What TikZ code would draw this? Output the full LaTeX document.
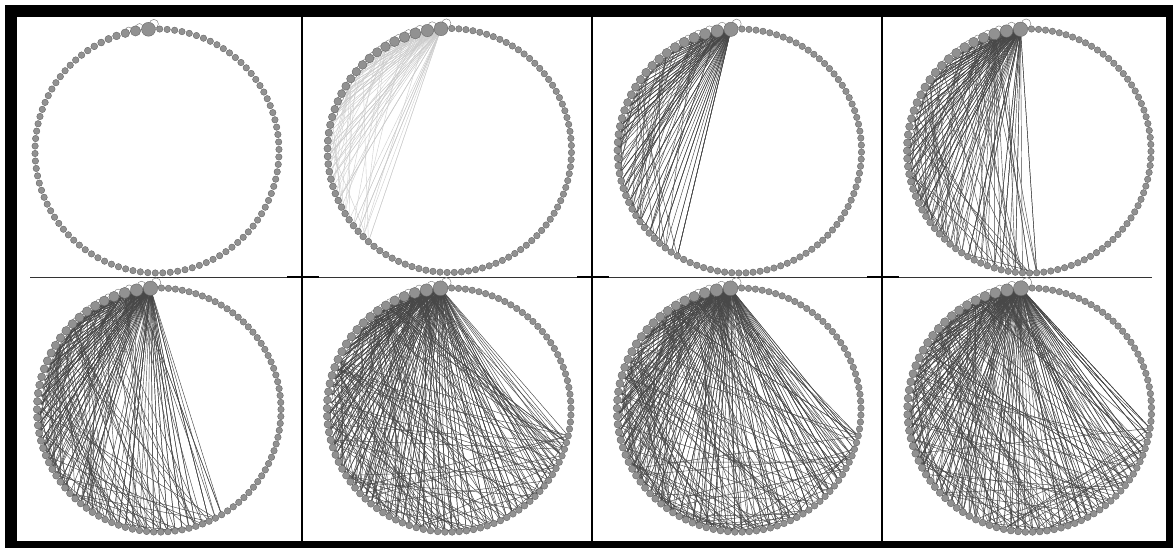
\documentclass[tikz,border=0pt]{standalone}
\usetikzlibrary{calc}
\pgfdeclarelayer{backlayer}
\pgfdeclarelayer{edgelayer}
\pgfdeclarelayer{looplayer}
\pgfsetlayers{backlayer,edgelayer,looplayer,main}
\definecolor{vfill}{RGB}{145,145,145}
\definecolor{vline}{RGB}{95,95,95}
\definecolor{edark}{RGB}{72,72,72}
\definecolor{elight}{RGB}{205,205,205}
\tikzset{
  vtx/.style={circle, inner sep=0pt, outer sep=0pt, fill=vfill, draw=vline, line width=0.35pt},
  loopst/.style={fill=white, draw=black!55, line width=0.4pt},
  darkedge/.style={draw=edark, line width=0.45pt},
  lightedge/.style={draw=elight, line width=0.4pt},
  frameline/.style={draw=black, line width=2.2pt},
}
% #1 id, #2 cx, #3 cy (pixels, downward), #4 A, #5 a, #6 B, #7 b, #8 number of loops
\newcommand\ringpanel[8]{%
  \xdef\rtot{0}%
  \foreach \ii in {0,...,99}{%
    \pgfmathsetmacro\rr{3.25+#4*exp(-min(\ii/#5,12))+#6*exp(-min(\ii/#7,12))}%
    \expandafter\xdef\csname rad#1x\ii\endcsname{\rr}%
    \pgfmathsetmacro\rtmp{\rtot+2*\rr}%
    \xdef\rtot{\rtmp}%
  }%
  \pgfmathsetmacro\rgap{(2*pi*122-\rtot)/100}%
  \xdef\racc{0}%
  \foreach \ii in {0,...,99}{%
    \edef\rr{\csname rad#1x\ii\endcsname}%
    \ifnum\ii>0
      \pgfmathtruncatemacro\ip{\ii-1}%
      \edef\rp{\csname rad#1x\ip\endcsname}%
      \pgfmathsetmacro\rtmp{\racc+\rp+\rr+\rgap}%
      \xdef\racc{\rtmp}%
    \fi
    \pgfmathsetmacro\ang{94+deg(\racc/122)}%
    \pgfmathsetmacro\dd{2*\rr}%
    \node[vtx, minimum size=\dd pt] (p#1n\ii) at ($(#2,-#3)+(\ang:122)$) {};
    \ifnum\ii<#8
      \begin{pgfonlayer}{looplayer}
        \pgfmathsetmacro\lr{0.65*\rr}%
        \pgfmathsetmacro\lo{1.1*\rr}%
        \draw[loopst] ($(p#1n\ii.center)+(45:\lo)$) circle[radius=\lr pt];
      \end{pgfonlayer}
    \fi
  }%
}
% #1 id, #2 N, #3 K, #4 q, #5 style, #6 seed
\newcommand\ringedges[6]{%
  \pgfmathsetseed{#6}%
  \begin{pgfonlayer}{edgelayer}
  \foreach \jj in {1,...,#2}{%
    \pgfmathsetmacro\ru{rnd}%
    \ifdim\ru pt<0.9pt
      \pgfmathsetmacro\rv{rnd}%
      \pgfmathtruncatemacro\rh{min(3,\jj)*\rv*\rv}%
      \draw[#5] (p#1n\rh.center) -- (p#1n\jj.center);
    \fi
    \foreach \kk in {1,...,#3}{%
      \pgfmathsetmacro\ru{rnd}%
      \ifdim\ru pt<#4pt
        \pgfmathsetmacro\rv{rnd}%
        \pgfmathtruncatemacro\rh{\jj*\rv*\rv*\rv}%
        \draw[#5] (p#1n\rh.center) -- (p#1n\jj.center);
      \fi
    }%
  }%
  \end{pgfonlayer}
}
\begin{document}
\begin{tikzpicture}[x=1pt,y=1pt]
\useasboundingbox (0,0) rectangle (1173,-548);
\begin{pgfonlayer}{backlayer}
\fill[white] (0,0) rectangle (1173,-548);
\fill[black] (5,-5) rectangle (1173,-548);
\fill[white] (17,-17) rectangle (1166,-541);
\draw[black!80, line width=0.9pt] (30,-277) -- (1152,-277);
\foreach \xx in {302,592,882}{
  \draw[frameline] (\xx,-17) -- (\xx,-541);
  \draw[black, line width=2pt] (\xx-15,-277) -- (\xx+17,-277);
}
\end{pgfonlayer}
% top row
\ringpanel{1}{157}{151}{1.9}{1}{1.8}{2.5}{3}
\ringpanel{2}{449.5}{150.5}{1.2}{1.6}{2.5}{10}{16}
\ringedges{2}{33}{3}{0.8}{lightedge}{11}
\ringpanel{3}{739.5}{151}{1.5}{1.6}{2.4}{11}{16}
\ringedges{3}{36}{4}{0.8}{darkedge}{23}
\ringpanel{4}{1029}{151}{1.7}{1.6}{2.3}{12}{18}
\ringedges{4}{46}{4}{0.85}{darkedge}{37}
% bottom row
\ringpanel{5}{159}{410}{1.9}{1.6}{2.1}{14}{20}
\ringedges{5}{54}{5}{0.85}{darkedge}{41}
\ringpanel{6}{449}{410}{2.4}{1.6}{1.8}{18}{20}
\ringedges{6}{68}{5}{0.9}{darkedge}{53}
\ringpanel{7}{739}{410}{2.4}{1.6}{1.8}{18}{20}
\ringedges{7}{68}{5}{0.92}{darkedge}{67}
\ringpanel{8}{1029.5}{410}{2.7}{1.6}{1.6}{22}{20}
\ringedges{8}{69}{5}{0.92}{darkedge}{79}
\end{tikzpicture}
\end{document}
